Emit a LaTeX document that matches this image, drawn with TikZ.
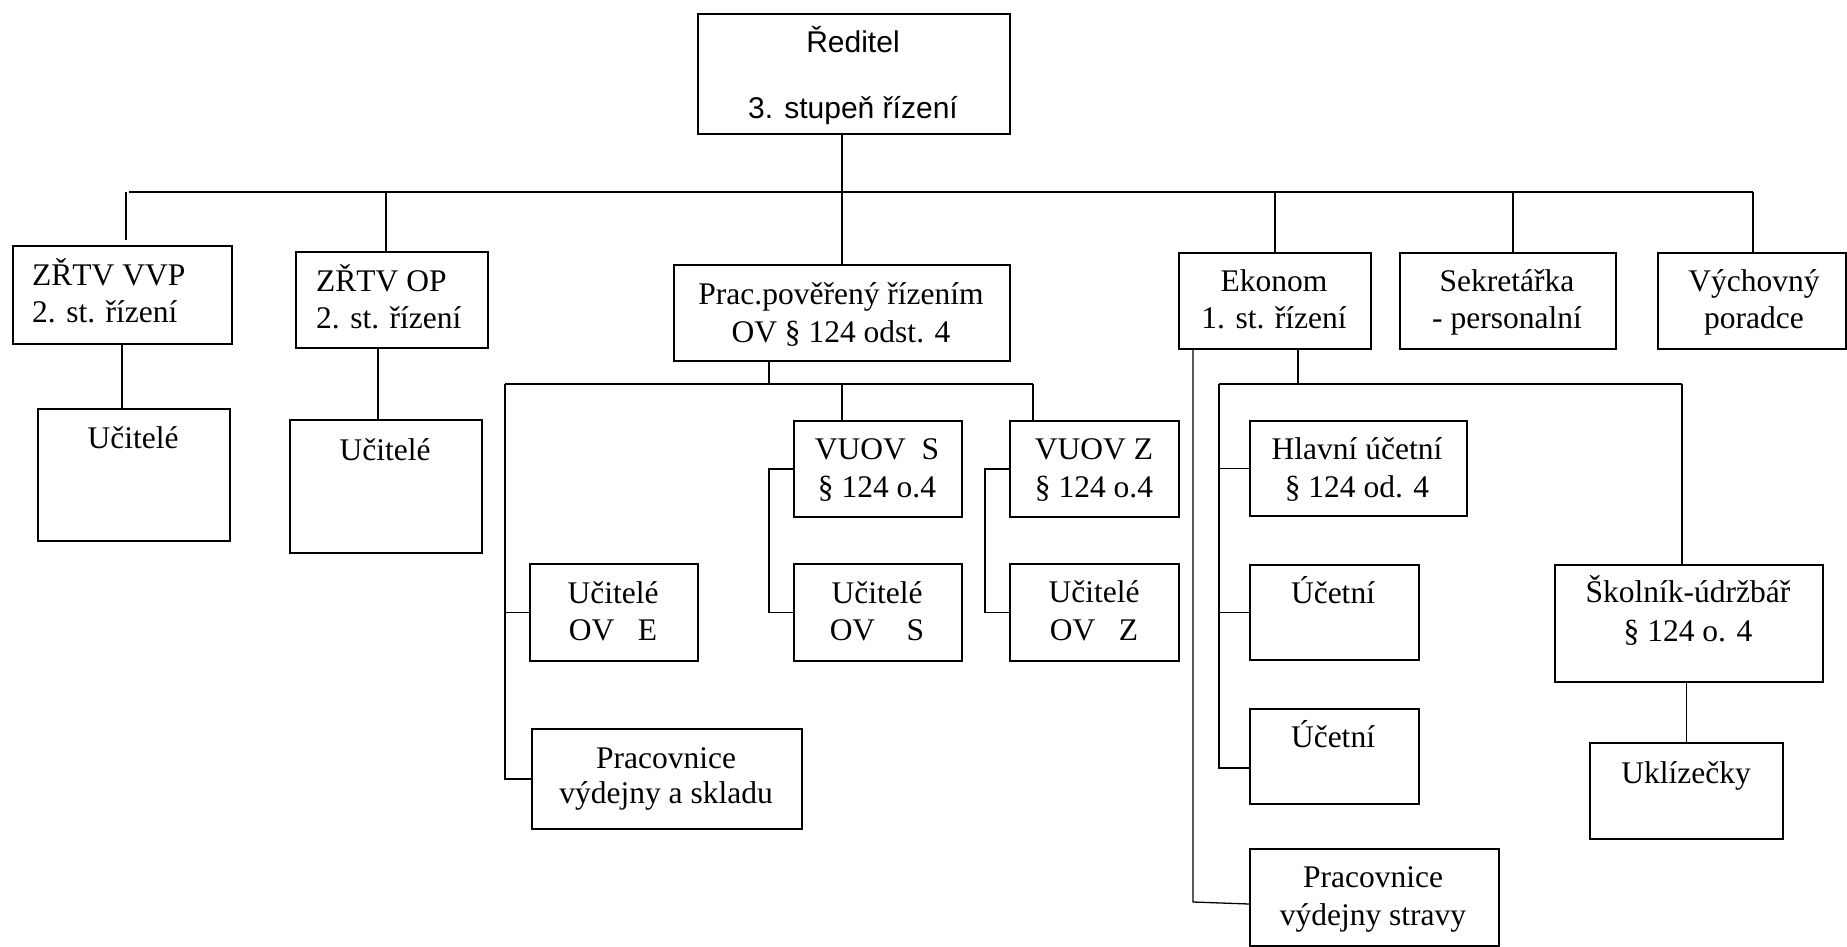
\documentclass[tikz,border=0pt]{standalone}
\usepackage{fontspec}
\setmainfont{Liberation Serif}
\newfontfamily\arialfont{Liberation Sans}
\newcommand\mybox[5]{\node[box, minimum width={(#4-#2)*1pt}, minimum height={(#5-#3)*1pt}] (#1) at (#2,#3) {};}
\newcommand\mytext[5][tx]{\node[#1] (#2) at (#3,#4) {#5};}
\begin{document}
\begin{tikzpicture}[x=1pt,y=-1pt,
  box/.style={draw, line width=1.7pt, inner sep=0pt, anchor=north west},
  conn/.style={line width=1.3pt},
  thickconn/.style={line width=1.9pt},
  tx/.style={inner sep=0pt, anchor=base, font=\fontsize{31.5}{38}\selectfont},
  txl/.style={tx, anchor=base west},
  txs/.style={inner sep=0pt, anchor=base, font=\arialfont\fontsize{30}{36}\selectfont}]
\useasboundingbox (0,0) rectangle (1847,947);

% boxes
\mybox{reditel}{697}{13}{1009}{133}
\mybox{vvp}{12}{245}{231}{343}
\mybox{op}{295}{251}{487}{347}
\mybox{prac}{673}{264}{1009}{360}
\mybox{ekonom}{1178}{252}{1370}{348}
\mybox{sek}{1399}{252}{1615}{348}
\mybox{vych}{1657}{252}{1845}{348}
\mybox{uca}{37}{408}{229}{540}
\mybox{ucb}{289}{419}{481}{552}
\mybox{vs}{793}{420}{961}{516}
\mybox{vz}{1009}{420}{1178}{516}
\mybox{ove}{529}{563}{697}{660}
\mybox{ovs}{793}{563}{961}{660}
\mybox{ovz}{1009}{563}{1178}{660}
\mybox{prs}{531}{728}{801}{828}
\mybox{hl}{1249}{420}{1466}{515}
\mybox{ucc}{1249}{564}{1418}{659}
\mybox{ucd}{1249}{708}{1418}{803}
\mybox{stravy}{1249}{848}{1498}{945}
\mybox{sk}{1554}{564}{1822}{681}
\mybox{uk}{1589}{742}{1782}{838}

% texts
\mytext[txs]{t-red1}{853}{53}{Ředitel}
\mytext[txs]{t-red2}{853}{119}{3. stupeň řízení}
\mytext[txl]{t-vvp1}{32}{285}{ZŘTV VVP}
\mytext[txl]{t-vvp2}{32}{322}{2. st. řízení}
\mytext[txl]{t-op1}{316}{291}{ZŘTV OP}
\mytext[txl]{t-op2}{316}{328}{2. st. řízení}
\mytext{t-prac1}{841}{304}{Prac.pověřený řízením}
\mytext{t-prac2}{841}{342}{OV § 124 odst. 4}
\mytext{t-ek1}{1274}{291}{Ekonom}
\mytext{t-ek2}{1274}{328}{1. st. řízení}
\mytext{t-sek1}{1507}{291}{Sekretářka}
\mytext{t-sek2}{1507}{328}{- personalní}
\mytext{t-vych1}{1754}{291}{Výchovný}
\mytext{t-vych2}{1754}{328}{poradce}
\mytext{t-uca}{133}{448}{Učitelé}
\mytext{t-ucb}{385}{460}{Učitelé}
\mytext{t-vs1}{877}{459}{VUOV\ \ S}
\mytext{t-vs2}{877}{497}{§ 124 o.4}
\mytext{t-vz1}{1094}{459}{VUOV Z}
\mytext{t-vz2}{1094}{497}{§ 124 o.4}
\mytext{t-ove1}{613}{603}{Učitelé}
\mytext{t-ove2}{613}{640}{OV\ \ \ E}
\mytext{t-ovs1}{877}{603}{Učitelé}
\mytext{t-ovs2}{877}{640}{OV\ \ \ \ S}
\mytext{t-ovz1}{1094}{602}{Učitelé}
\mytext{t-ovz2}{1094}{640}{OV\ \ \ Z}
\mytext{t-prs1}{666}{768}{Pracovnice}
\mytext{t-prs2}{666}{803}{výdejny a skladu}
\mytext{t-hl1}{1357}{459}{Hlavní účetní}
\mytext{t-hl2}{1357}{497}{§ 124 od. 4}
\mytext{t-ucc}{1333}{603}{Účetní}
\mytext{t-ucd}{1333}{747}{Účetní}
\mytext{t-str1}{1373}{887}{Pracovnice}
\mytext{t-str2}{1373}{925}{výdejny stravy}
\mytext{t-sk1}{1688}{602}{Školník-údržbář}
\mytext{t-sk2}{1688}{641}{§ 124 o. 4}
\mytext{t-uk}{1686}{783}{Uklízečky}

% coordinates of junctions
\coordinate (busL) at (129,192);
\coordinate (busM) at (1498,192);
\coordinate (busR) at (1753,192);
\coordinate (dvvp) at (126,192);
\coordinate (dvvpe) at (126,240);
\coordinate (dop) at (386,192);
\coordinate (dsek) at (1513,192);
\coordinate (cvvp) at (122,343);
\coordinate (cop) at (378,347);
\coordinate (pbus) at (769,384);
\coordinate (pbusL) at (505,384);
\coordinate (pbusR) at (1033,384);
\coordinate (pvs) at (842,384);
\coordinate (eleft) at (1193,348);
\coordinate (eleftb) at (1193,902);
\coordinate (edrop) at (1298,348);
\coordinate (ebusL) at (1219,384);
\coordinate (ebusR) at (1682,384);
\coordinate (eucd) at (1219,768);

% main bus
\draw[thickconn] (busL) -- (busM);
\draw[conn] (busM) -- (busR);
\draw[conn] (reditel.south -| prac.north) -- (prac.north);
\draw[conn] (dvvp) -- (dvvpe);
\draw[conn] (dop) -- (dop |- op.north);
\draw[conn] (ekonom.north |- busL) -- (ekonom.north);
\draw[conn] (dsek) -- (dsek |- sek.north);
\draw[conn] (busR) -- (busR |- vych.north);

% under ZRTV
\draw[conn] (cvvp) -- (cvvp |- uca.north);
\draw[conn] (cop) -- (cop |- ucb.north);

% Prac subtree
\draw[conn] (prac.south -| pbus) -- (pbus);
\draw[conn] (pbusL) -- (pbusR);
\draw[conn] (pvs) -- (pvs |- vs.north);
\draw[conn] (pbusR) -- (pbusR |- vz.north);
\draw[conn] (pbusL) |- (prs.west);
\draw[conn] (pbusL |- ove.west) -- (ove.west);
\draw[conn] (vs.west) -- ++(-24,0) |- (ovs.west);
\draw[conn] (vz.west) -- ++(-24,0) |- (ovz.west);

% Ekonom subtree
\draw[conn] (eleft) -- (eleftb) -- (stravy.west |- 0,904);
\draw[conn] (edrop) -- (edrop |- ebusL);
\draw[conn] (ebusL) -- (ebusR);
\draw[conn] (ebusR) -- (ebusR |- sk.north);
\draw[conn] (ebusL) -- (eucd) -- (ucd.west |- eucd);
\draw[conn] (ebusL |- hl.west) -- (hl.west);
\draw[conn] (ebusL |- ucc.west) -- (ucc.west);
\draw[conn] (sk.south -| uk.north) -- (uk.north);
\end{tikzpicture}
\end{document}
